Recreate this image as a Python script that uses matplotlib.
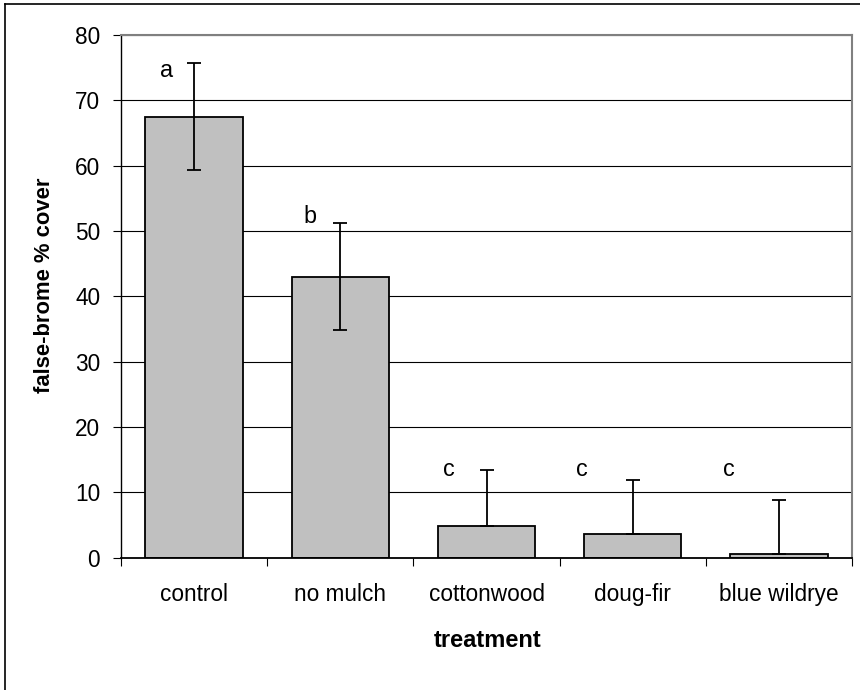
import numpy as np
import matplotlib
matplotlib.use("Agg")
import matplotlib.pyplot as plt
from matplotlib.lines import Line2D

plt.rcParams['font.family'] = ['Liberation Sans', 'DejaVu Sans']

treatments = ["control", "no mulch", "cottonwood", "doug-fir", "blue wildrye"]
cover = [67.5, 43.0, 4.85, 3.6, 0.55]
err_up = [8.2, 8.2, 8.5, 8.25, 8.3]
err_down = [8.2, 8.2, 0, 0, 0]
letters = ["a", "b", "c", "c", "c"]

# donde van las letras (x en unidades de categoria, y en % cover, linea base)
letter_x = [-0.19, 0.79, 1.74, 2.65, 3.66]
letter_y = [73.5, 51.3, 12.5, 12.5, 12.5]

fs = 16.3

fig = plt.figure(figsize=(8.6, 6.9), dpi=100)
ax = fig.add_axes([121 / 860, 1 - 557.7 / 690, (852 - 121) / 860, (557.7 - 35) / 690])

x = np.arange(len(treatments))
ax.bar(x, cover, width=0.667, color="#c0c0c0", edgecolor="black", linewidth=1.3, zorder=2)
ax.errorbar(x, cover, yerr=[err_down, err_up], fmt="none", ecolor="black",
            elinewidth=1.3, capsize=5.3, capthick=1.3, zorder=3)

for lx, ly, t in zip(letter_x, letter_y, letters):
    ax.text(lx, ly, t, ha="center", va="baseline", fontsize=fs + 0.5)

ax.set_xlim(-0.5, len(treatments) - 0.5)
ax.set_ylim(0, 80)
ax.set_yticks(np.arange(0, 81, 10))
ax.yaxis.grid(True, color="black", linewidth=0.8, zorder=0)
ax.set_axisbelow(True)

ax.set_xticks(x)
ax.set_xticklabels(treatments)
ax.set_xticks(np.arange(-0.5, len(treatments), 1), minor=True)
ax.tick_params(axis="x", which="major", length=0, pad=18.5, labelsize=fs)
ax.tick_params(axis="x", which="minor", length=6, width=0.8, direction="out")
ax.tick_params(axis="y", length=6, width=0.8, direction="out", pad=9, labelsize=fs)

for s in ["top", "right"]:
    ax.spines[s].set_color("#808080")
    ax.spines[s].set_linewidth(1.5)
ax.spines["left"].set_linewidth(1.0)
ax.spines["bottom"].set_linewidth(1.3)

fig.text(44.5 / 860, 1 - 285 / 690, "false-brome % cover", rotation=90,
         ha="center", va="center", fontsize=15.8, fontweight="bold")
fig.text(487.5 / 860, 1 - 647 / 690, "treatment", ha="center", va="baseline",
         fontsize=17, fontweight="bold")

# marco exterior (solo se ve arriba y a la izquierda)
fig.add_artist(Line2D([4.5 / 860, 4.5 / 860], [0, 1 - 3.5 / 690], color="black", linewidth=1.2))
fig.add_artist(Line2D([4.5 / 860, 1], [1 - 3.5 / 690, 1 - 3.5 / 690], color="black", linewidth=1.2))

fig.savefig("out.png", dpi=100)
